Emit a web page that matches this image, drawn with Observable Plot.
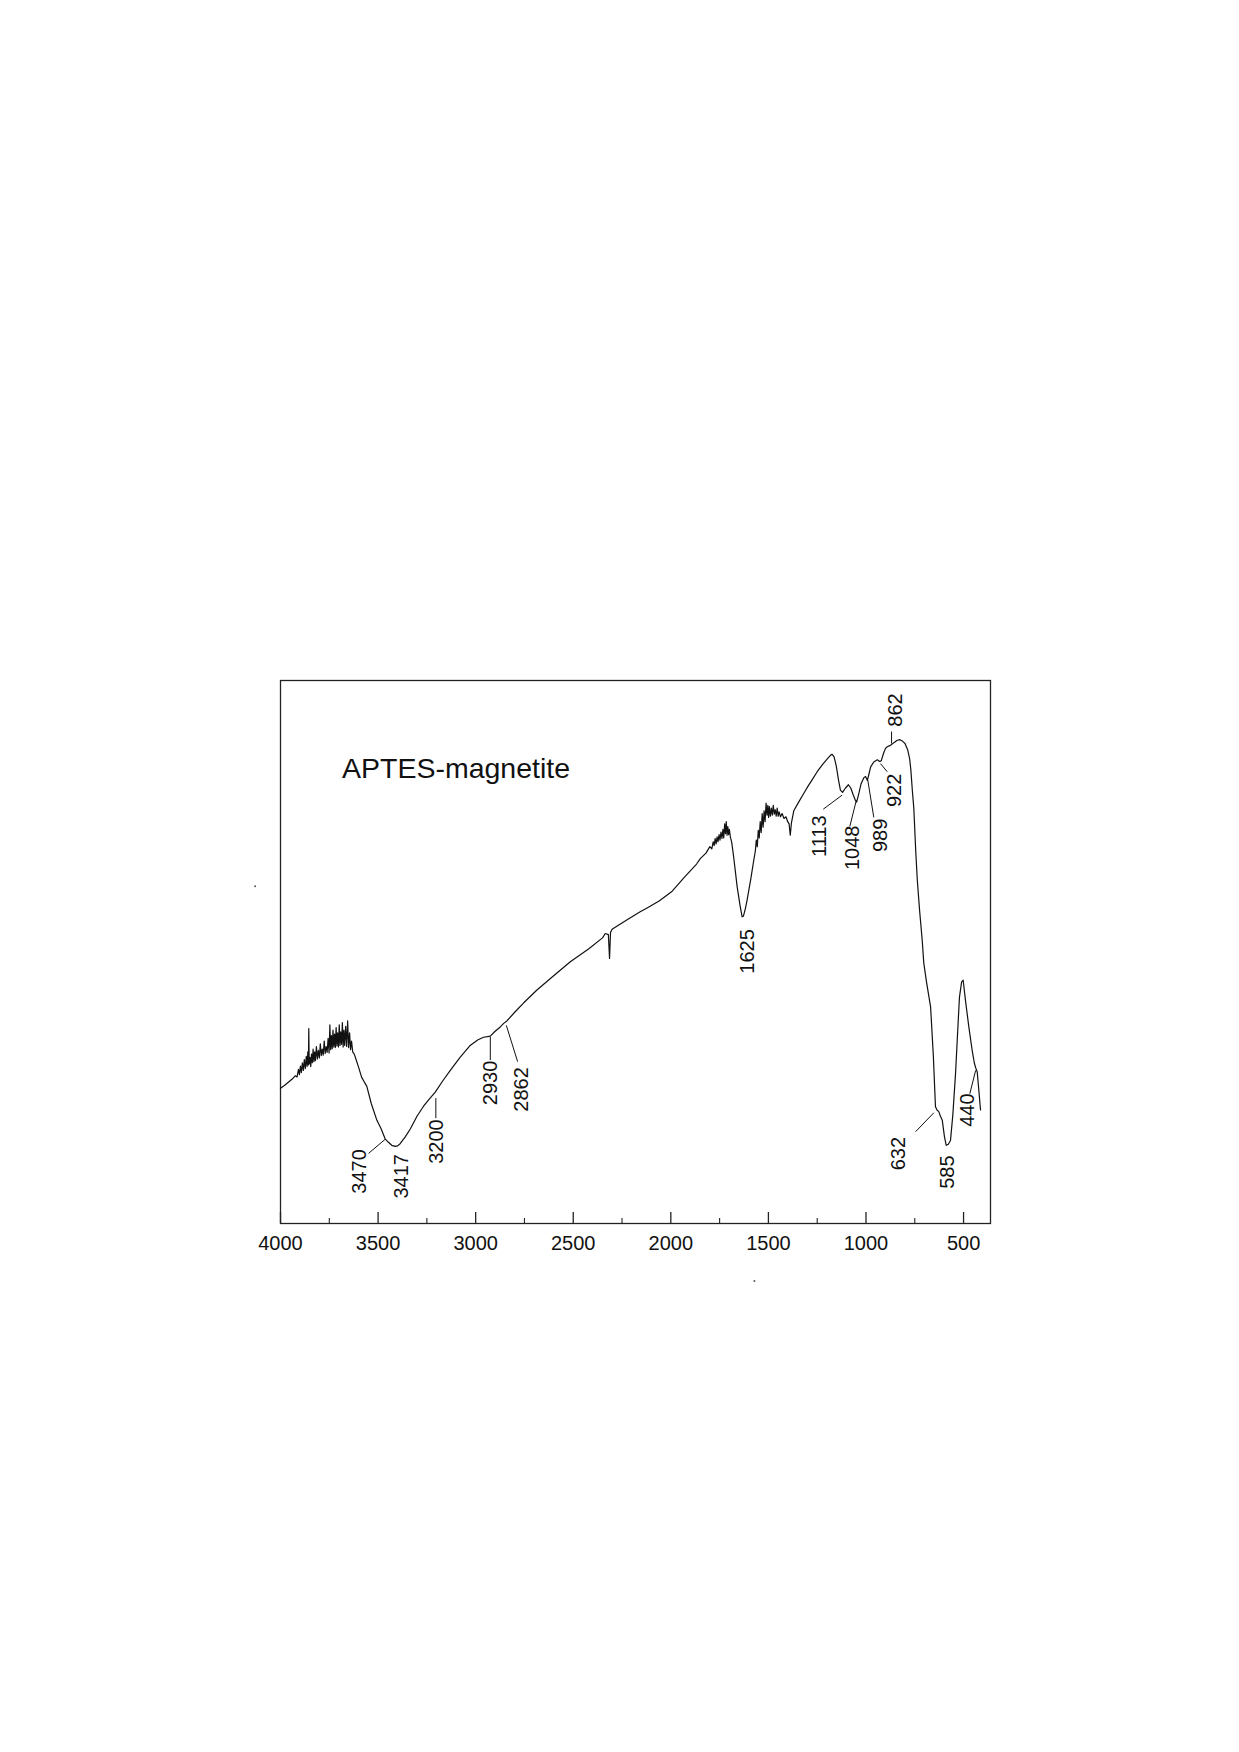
<!DOCTYPE html>
<html>
<head>
<meta charset="utf-8">
<script src="https://cdn.jsdelivr.net/npm/d3@7"></script>
<script src="https://cdn.jsdelivr.net/npm/@observablehq/plot@0.6"></script>
<style>
  html, body { margin: 0; padding: 0; background: #fff; }
  #chart svg { display: block; }
</style>
</head>
<body>
<div id="chart"></div>
<script>
// Wavenumber (cm-1) and relative transmittance (arbitrary units, 0-100)
const wavenumber = [
  4000,3980,3960,3940,3925,3915,3908,3903,3898,3893,3888,3883,3878,3873,3868,3864,3860,3857,3855,3853,
  3849,3845,3841,3837,3833,3829,3825,3821,3816,3811,3806,3801,3796,3791,3786,3781,3776,3771,3766,3761,
  3756,3751,3747,3743,3739,3735,3731,3727,3723,3719,3715,3711,3707,3703,3699,3695,3691,3687,3683,3679,
  3675,3671,3666,3661,3656,3651,3646,3641,3636,3630,3622,3612,3600,3585,3570,3558,3535,3506,3485,3464,
  3448,3430,3412,3400,3387,3360,3335,3300,3267,3240,3207,3170,3130,3080,3028,2990,2960,2940,2925,2900,
  2874,2855,2840,2800,2755,2686,2614,2515,2420,2350,2336,2320,2314,2309,2301,2230,2157,2117,2060,1993,
  1930,1868,1849,1820,1800,1790,1783,1778,1773,1768,1763,1758,1753,1748,1743,1738,1733,1729,1724,1720,
  1716,1712,1708,1704,1700,1695,1688,1678,1660,1645,1635,1628,1618,1609,1590,1575,1567,1562,1557,1552,
  1547,1542,1537,1532,1527,1522,1517,1512,1507,1503,1499,1495,1490,1485,1480,1475,1470,1465,1460,1455,
  1450,1445,1438,1430,1420,1410,1401,1394,1388,1382,1370,1345,1319,1296,1276,1250,1221,1195,1180,1173,
  1163,1152,1140,1131,1120,1105,1090,1078,1066,1054,1048,1038,1025,1011,1002,993,986,976,960,942,
  930,922,910,900,891,878,869,855,840,826,812,800,786,776,770,762,755,745,737,725,
  712,704,690,669,655,644,636,627,618,609,598,589,578,567,555,541,530,521,510,502,
  490,473,456,445,439,430,413
];
const transmittance = [
  24.9,25.4,26.0,26.6,27.2,27.0,28.4,27.4,29.0,27.8,29.6,28.2,30.2,28.5,30.8,28.9,31.6,29.2,35.9,29.4,
  30.6,28.9,31.2,29.6,32.1,29.8,31.6,30.0,32.6,30.3,31.9,30.5,33.1,30.9,32.1,31.0,33.6,31.3,32.6,31.5,
  34.1,31.4,36.6,32.0,34.6,32.2,35.6,32.5,34.9,32.4,36.1,32.7,35.1,32.5,36.6,32.8,35.3,33.0,37.0,32.5,
  35.6,32.8,36.3,32.6,37.3,32.4,35.1,32.0,33.6,31.6,31.2,30.1,28.8,27.0,26.0,25.3,22.1,19.0,17.5,15.6,
  15.0,14.4,14.2,14.3,14.7,16.0,17.4,19.8,21.6,22.8,24.2,26.2,28.2,30.6,32.8,33.8,34.3,34.4,34.5,35.4,
  36.2,36.9,37.3,38.9,40.6,43.0,45.2,48.2,50.6,52.6,53.4,53.2,48.8,53.6,54.2,55.8,57.4,58.2,59.4,61.2,
  63.8,66.2,67.2,68.2,69.4,69.0,70.3,69.6,70.9,69.9,71.2,70.3,71.6,70.6,72.1,70.9,72.6,71.0,73.6,71.8,
  74.0,71.5,73.1,71.6,72.6,71.2,70.2,67.5,62.0,58.5,56.5,56.6,58.0,59.6,63.5,66.9,68.6,70.6,69.4,72.4,
  71.0,74.0,72.0,75.5,73.0,76.0,74.0,77.4,75.2,77.0,74.8,76.8,75.0,76.5,75.2,77.0,75.4,76.2,75.0,76.5,
  75.0,75.8,74.9,75.5,74.6,74.9,74.0,73.6,71.5,73.8,76.0,77.6,79.2,80.6,81.7,83.2,84.6,85.7,86.3,86.4,
  85.9,84.2,81.5,79.8,79.4,80.2,80.8,80.2,79.0,77.9,77.6,79.0,81.0,82.1,82.3,81.6,82.6,84.1,85.0,85.4,
  85.1,85.2,86.6,87.5,87.8,88.0,88.2,88.6,89.0,89.1,88.8,88.4,87.2,85.5,83.5,79.5,76.5,68.5,63.2,57.5,
  52.2,48.0,44.5,39.9,31.0,21.5,20.9,20.6,19.7,19.0,16.0,14.4,14.6,15.3,20.0,27.7,35.5,41.7,44.5,44.8,
  41.0,36.2,31.9,29.6,28.8,27.9,20.9
];

// Axis ticks
const majorTicks = [4000,3500,3000,2500,2000,1500,1000,500];
const minorTicks = [3750,3250,2750,2250,1750,1250,750];

// Peak labels: text, position of the lower end of the rotated text (data units)
const peakText = ["3470","3417","3200","2930","2862","1625","1113","1048","989","922","862","632","585","440"];
const peakX    = [3595, 3378, 3199, 2925, 2763, 1609, 1237, 1071, 926, 852, 849, 832, 584, 478];
const peakY    = [5.5,  4.6,  11.0, 21.8, 20.6, 46.0, 67.5, 65.1, 68.4, 76.7, 91.5, 9.8, 6.4, 17.8];

// Leader lines (data units)
const leadX1 = [3549, 3204, 2925, 2843, 1219, 1083, 960, 891, 869, 746, 468];
const leadY1 = [12.9, 23.1, 34.4, 36.5, 76.3, 73.1, 74.8, 83.2, 90.6, 16.9, 23.9];
const leadX2 = [3464, 3204, 2925, 2785, 1122, 1049, 991, 926, 869, 652, 438];
const leadY2 = [15.5, 19.4, 30.1, 29.8, 78.9, 78.0, 81.7, 84.7, 88.4, 20.4, 28.2];

const titleText = "APTES-magnetite";
const titleX = 3685, titleY = 82.0;

// Two stray specks present in the scanned figure (data units)
const speckX = [4130, 1572];
const speckY = [62.1, -10.6];

const spectrum = wavenumber.map((w, i) => ({w, t: transmittance[i]}));
const labels = peakText.map((s, i) => ({s, x: peakX[i], y: peakY[i]}));
const leaders = leadX1.map((x1, i) => ({x1, y1: leadY1[i], x2: leadX2[i], y2: leadY2[i]}));
const specks = speckX.map((x, i) => ({x, y: speckY[i]}));

const font = "'Liberation Sans', Arial, Helvetica, sans-serif";

const chart = Plot.plot({
  width: 1239,
  height: 1752,
  marginLeft: 280,
  marginRight: 249,
  marginTop: 680,
  marginBottom: 529,
  x: {domain: [4000, 362]},
  y: {domain: [0, 100], axis: null},
  style: {fontFamily: font, background: "#fff", color: "#111"},
  marks: [
    Plot.frame({stroke: "#222", strokeWidth: 1.3}),
    Plot.ruleX(majorTicks, {x: d => d, insetTop: 532, stroke: "#222", strokeWidth: 1.3}),
    Plot.ruleX(minorTicks, {x: d => d, insetTop: 538, stroke: "#222", strokeWidth: 1.1}),
    Plot.axisX({ticks: majorTicks, tickSize: 0, tickPadding: 12, fontSize: 20, tickFormat: d => String(d), label: null, fontFamily: font}),
    Plot.line(spectrum, {x: "w", y: "t", stroke: "#111", strokeWidth: 1.2, curve: "linear"}),
    Plot.link(leaders, {x1: "x1", y1: "y1", x2: "x2", y2: "y2", stroke: "#111", strokeWidth: 1}),
    Plot.text(labels, {x: "x", y: "y", text: "s", rotate: -90, textAnchor: "start", lineAnchor: "middle", fontSize: 20, fill: "#111", fontFamily: font}),
    Plot.text([titleText], {x: () => titleX, y: () => titleY, text: d => d, textAnchor: "start", lineAnchor: "bottom", fontSize: 28.5, fill: "#111", fontFamily: font}),
    Plot.dot(specks, {x: "x", y: "y", r: 1, fill: "#555", stroke: null, clip: false})
  ]
});
document.getElementById("chart").appendChild(chart);
</script>
</body>
</html>
